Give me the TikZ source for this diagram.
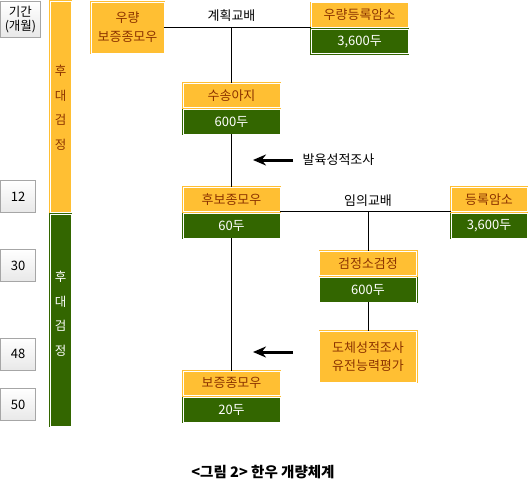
\documentclass[tikz,border=0pt]{standalone}
\usepackage{fontspec}
\setmainfont{Noto Sans CJK KR}
\usepackage{xcolor}
\definecolor{HanwooOrange}{rgb}{1.0, 0.75, 0.2}
\definecolor{HanwooGreen}{rgb}{0.2, 0.4, 0.0}
\definecolor{HanwooBrown}{rgb}{0.55, 0.2, 0.0}
\usetikzlibrary{calc, positioning, arrows.meta}

\begin{document}
\begin{tikzpicture}[
    x=1pt, y=-1pt,
    font=\fontsize{13}{15}\selectfont,
    >=stealth,
    name_box/.style={rectangle, draw=HanwooOrange, double=white, double distance=0.8pt, line width=0.6pt, fill=HanwooOrange, text=HanwooBrown, minimum width=97pt, minimum height=24.5pt, inner sep=1pt, align=center},
    count_box/.style={name_box, draw=HanwooGreen, fill=HanwooGreen, text=white},
    month_box/.style={rectangle, draw=gray!70, line width=0.9pt, top color=white, bottom color=gray!18, minimum width=35pt, minimum height=32pt, inner sep=1pt, align=center},
    phase_bar/.style={draw=HanwooOrange, double=white, double distance=0.8pt, line width=0.6pt, fill=HanwooOrange},
    phase_text/.style={text=HanwooBrown, align=center, font=\fontsize{12.5}{24.5}\selectfont},
    link_line/.style={black, line width=0.8pt},
    survey_arrow/.style={-{Stealth[length=13pt, width=11pt]}, line width=3pt}
]
    \useasboundingbox (0,0) rectangle (530,484);

    % 1. PERIOD COLUMN (months)
    \node[month_box, minimum width=40pt, minimum height=36pt, font=\fontsize{12.5}{13.5}\selectfont] (period) at (20.5,19.5) {기간\\(개월)};
    \node[month_box] (m12) at (18,196.5) {12};
    \node[month_box] (m30) at (18,265.5) {30};
    \node[month_box] (m48) at (18,354) {48};
    \node[month_box] (m50) at (18,404.5) {50};

    % 2. PROGENY TEST BARS
    \draw[phase_bar] (50,1) rectangle (71,212);
    \draw[phase_bar, draw=HanwooGreen, fill=HanwooGreen] (50,214) rectangle (71,426);
    \node[phase_text] (phase1) at (60.5,108) {후\\대\\검\\정};
    \node[phase_text, text=white] (phase2) at (60.5,314) {후\\대\\검\\정};

    % 3. PLANNED MATING
    \node[name_box, minimum width=73pt, minimum height=51pt, font=\fontsize{13}{19}\selectfont] (bull1) at (127.5,27.5) {우량\\보증종모우};
    \node[name_box] (cow1) at (359.5,14.8) {우량등록암소};
    \node[count_box] (cow1_n) at (359.5,41.3) {3,600두};
    \node[name_box] (calf) at (231.5,95.3) {수송아지};
    \node[count_box] (calf_n) at (231.5,121.8) {600두};
    \coordinate (mate1) at (bull1.east -| calf.north);
    \node (plan_lbl) at (231.5,16) {계획교배};
    \draw[link_line] (bull1.east) -- (bull1.east -| cow1.west);
    \draw[link_line] (mate1) -- (calf.north);

    % 4. GROWTH TEST
    \coordinate (growth_tail) at (293,160);
    \coordinate (growth_tip) at (253,160);
    \draw[survey_arrow] (growth_tail) -- (growth_tip);
    \node (growth_lbl) at (338.5,160) {발육성적조사};

    % 5. CANDIDATE BULLS AND RANDOM MATING
    \node[name_box] (cand) at (231.5,199.3) {후보종모우};
    \node[count_box] (cand_n) at (231.5,225.8) {60두};
    \node[name_box, minimum width=76pt] (cow2) at (489,199.3) {등록암소};
    \node[count_box, minimum width=76pt] (cow2_n) at (489,225.8) {3,600두};
    \node[name_box] (test) at (368,263.3) {검정소검정};
    \node[count_box] (test_n) at (368,289.8) {600두};
    \node[name_box, minimum height=51pt, font=\fontsize{13}{18}\selectfont] (carcass) at (368,356.5) {도체성적조사\\유전능력평가};
    \coordinate (mate2) at (cand.south east -| test.north);
    \node (random_lbl) at (368,201) {임의교배};
    \draw[link_line] (calf_n.south) -- (cand.north);
    \draw[link_line] (cand.south east) -- (cand.south east -| cow2.west);
    \draw[link_line] (mate2) -- (test.north);
    \draw[link_line] (test_n.south) -- (carcass.north);

    % 6. PROVEN BULLS
    \coordinate (eval_tail) at (293,352);
    \coordinate (eval_tip) at (253,352);
    \draw[survey_arrow] (eval_tail) -- (eval_tip);
    \node[name_box] (proven) at (231.5,383.3) {보증종모우};
    \node[count_box] (proven_n) at (231.5,409.8) {20두};
    \draw[link_line] (cand_n.south) -- (proven.north);

    % 7. CAPTION
    \node[font=\fontsize{14.5}{16}\selectfont\bfseries] (caption) at (263,472) {<그림 2> 한우 개량체계};

\end{tikzpicture}
\end{document}
